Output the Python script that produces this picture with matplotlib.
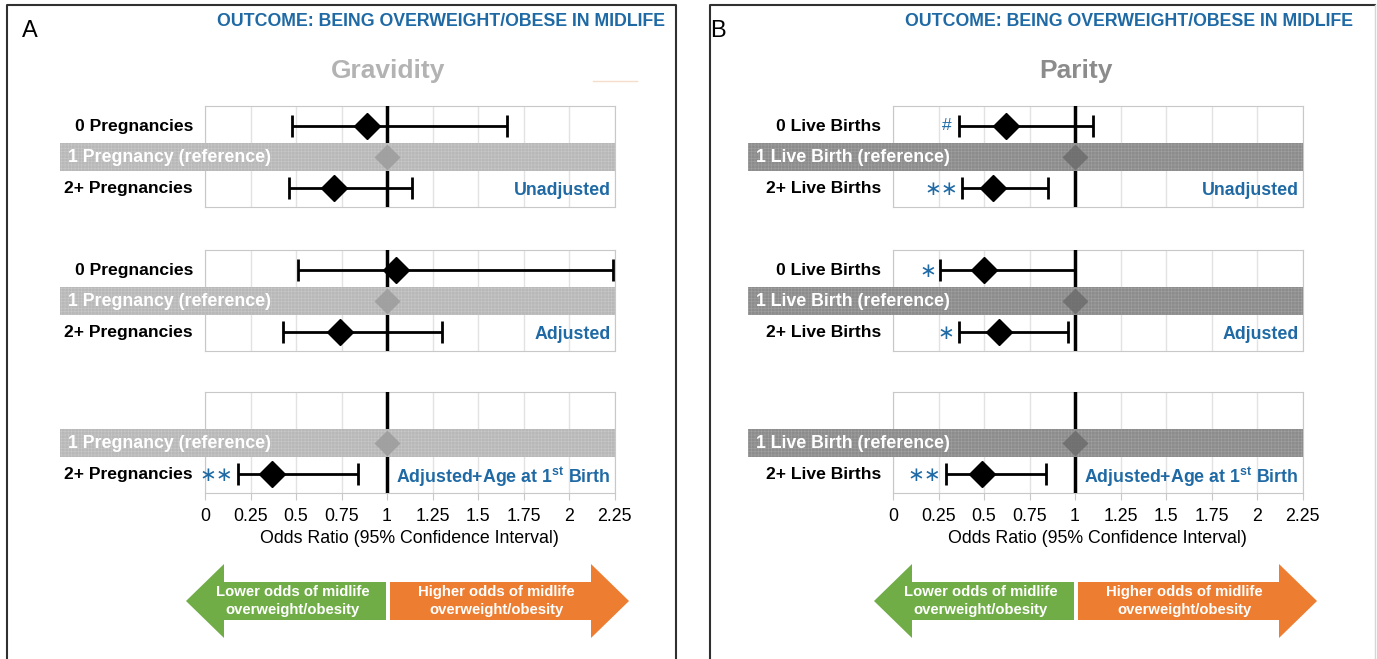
#!/usr/bin/env python3
# forest_midlife_bmi.py
# Odds ratios for midlife overweight/obesity by gravidity and parity
import numpy as np
import matplotlib.pyplot as plt
from matplotlib.patches import Rectangle, Polygon

plt.rcParams['font.family'] = ['Liberation Sans', 'DejaVu Sans']
plt.rcParams['mathtext.fontset'] = 'custom'
plt.rcParams['mathtext.bf'] = 'Liberation Sans:bold'
plt.rcParams['mathtext.rm'] = 'Liberation Sans'
plt.rcParams['hatch.linewidth'] = 0.4

W, H = 1377, 659
BLUE = '#1f6aa5'

models = ['Unadjusted', 'Adjusted', 'Adjusted+Age at 1$^{\\mathbf{st}}$ Birth']
xticks = [0, 0.25, 0.5, 0.75, 1, 1.25, 1.5, 1.75, 2, 2.25]
xticklabels = ['0', '0.25', '0.5', '0.75', '1', '1.25', '1.5', '1.75', '2', '2.25']

# gravidity (reference: 1 pregnancy)
grav_labels = ['0 Pregnancies', '1 Pregnancy (reference)', '2+ Pregnancies']
grav_zero_or = [0.89, 1.05, np.nan]
grav_zero_lo = [0.48, 0.51, np.nan]
grav_zero_hi = [1.66, 2.24, np.nan]
grav_zero_sig = ['', '', '']
grav_multi_or = [0.71, 0.74, 0.37]
grav_multi_lo = [0.46, 0.43, 0.18]
grav_multi_hi = [1.14, 1.30, 0.84]
grav_multi_sig = ['', '', '∗∗']

# parity (reference: 1 live birth)
par_labels = ['0 Live Births', '1 Live Birth (reference)', '2+ Live Births']
par_zero_or = [0.62, 0.50, np.nan]
par_zero_lo = [0.36, 0.26, np.nan]
par_zero_hi = [1.10, 1.00, np.nan]
par_zero_sig = ['#', '∗', '']
par_multi_or = [0.55, 0.58, 0.49]
par_multi_lo = [0.38, 0.36, 0.29]
par_multi_hi = [0.85, 0.96, 0.84]
par_multi_sig = ['∗∗', '∗', '∗∗']

fig = plt.figure(figsize=(W / 100, H / 100), dpi=100)

# full-figure overlay in pixel units for frames, headers and arrows
bg = fig.add_axes([0, 0, 1, 1])
bg.set_xlim(0, W)
bg.set_ylim(H, 0)
bg.axis('off')


def px_axes(x0, y0, x1, y1):
    return fig.add_axes([x0 / W, 1 - y1 / H, (x1 - x0) / W, (y1 - y0) / H])


def draw_panel(x0, letter, title, title_color, labels, band_color, hatch_color,
               ref_color, zero_or, zero_lo, zero_hi, zero_sig,
               multi_or, multi_lo, multi_hi, multi_sig):
    dx = x0 - 205
    ax_w = 409.5
    ref_rows = [157, 301, 443]
    top, bot = 1.63, -1.6
    for i, ref_px in enumerate(ref_rows):
        y_top = ref_px - top * 31
        y_bot = ref_px - bot * 31
        ax = px_axes(x0, y_top, x0 + ax_w, y_bot)
        ax.set_xlim(0, 2.25)
        ax.set_ylim(bot, top)
        ax.set_xticks(xticks)
        ax.set_yticks([])
        ax.grid(axis='x', color='#e2e2e2', lw=1, zorder=0)
        for s in ax.spines.values():
            s.set_color('#c8c8c8')
        if i < 2:
            ax.tick_params(axis='x', length=0, labelbottom=False)
        else:
            ax.set_xticklabels(xticklabels, fontsize=12.8)
            ax.tick_params(axis='x', length=5, color='#c8c8c8', pad=6)
            ax.set_xlabel('Odds Ratio (95% Confidence Interval)', fontsize=12.8,
                          labelpad=4)
        ax.axvline(1, color='black', lw=2.5, zorder=3)

        tr = ax.get_yaxis_transform()
        band_x0 = (60 - 205) / ax_w
        ax.add_patch(Rectangle((band_x0, -0.44), 1 - band_x0, 0.88, transform=tr,
                               facecolor=band_color, edgecolor=hatch_color,
                               lw=0, hatch='+++++', clip_on=False, zorder=4))
        ax.text(band_x0 + 8 / ax_w, -0.02, labels[1], transform=tr, ha='left',
                va='center', color='white', fontsize=12.8, fontweight='bold',
                zorder=5)
        ax.plot([1], [0], marker='D', ms=13, color=ref_color, alpha=0.8,
                mec='none', zorder=5, clip_on=False)

        rows = [(1, zero_or[i], zero_lo[i], zero_hi[i], zero_sig[i], labels[0]),
                (-1, multi_or[i], multi_lo[i], multi_hi[i], multi_sig[i], labels[2])]
        for y, o, lo, hi, sig, lab in rows:
            if np.isnan(o):
                continue
            ax.text(-12 / ax_w, y - 0.02, lab, transform=tr, ha='right',
                    va='center', fontsize=12.6, fontweight='bold')
            ax.errorbar([o], [y], xerr=[[o - lo], [hi - o]], fmt='D', ms=13,
                        color='black', ecolor='black', elinewidth=2,
                        capsize=8, capthick=2, zorder=6)
            if sig:
                if sig == '#':
                    ax.annotate(sig, (lo, y), xytext=(-5, 0),
                                textcoords='offset points', ha='right',
                                va='center', color=BLUE, fontsize=12.5)
                else:
                    ax.annotate(sig, (lo, y), xytext=(-3, -1),
                                textcoords='offset points', ha='right',
                                va='center', color=BLUE, fontsize=14.5,
                                family=['DejaVu Sans'])
        ax.text(0.99, -1.08, models[i], transform=tr, ha='right', va='center',
                color=BLUE, fontsize=12.8, fontweight='bold', zorder=5)

    # header texts
    bg.text(22 + dx, 31, letter, fontsize=17, ha='left', va='center')
    bg.text(665 + dx, 21, 'OUTCOME: BEING OVERWEIGHT/OBESE IN MIDLIFE',
            ha='right', va='center', color=BLUE, fontweight='bold',
            fontsize=12.8)
    bg.text(388 + dx, 71, title, ha='center', va='center', color=title_color,
            fontsize=19, fontweight='bold')

    # direction arrows under the axis
    green = [(186, 601), (224, 564), (224, 582), (386, 582), (386, 620),
             (224, 620), (224, 638)]
    orange = [(390, 582), (591, 582), (591, 564), (629, 601), (591, 638),
              (591, 620), (390, 620)]
    bg.add_patch(Polygon([(x + dx, y) for x, y in green], closed=True,
                         facecolor='#70ad47', edgecolor='none'))
    bg.add_patch(Polygon([(x + dx, y) for x, y in orange], closed=True,
                         facecolor='#ed7d31', edgecolor='none'))
    bg.text(293 + dx, 601, 'Lower odds of midlife\noverweight/obesity',
            ha='center', va='center', color='white', fontweight='bold',
            fontsize=10.7, linespacing=1.35)
    bg.text(496 + dx, 601, 'Higher odds of midlife\noverweight/obesity',
            ha='center', va='center', color='white', fontweight='bold',
            fontsize=10.7, linespacing=1.35)


draw_panel(205, 'A', 'Gravidity', '#b3b3b3', grav_labels, '#b8b8b8', '#c8c8c8',
           '#9a9a9a', grav_zero_or, grav_zero_lo, grav_zero_hi, grav_zero_sig,
           grav_multi_or, grav_multi_lo, grav_multi_hi, grav_multi_sig)
draw_panel(893, 'B', 'Parity', '#8c8c8c', par_labels, '#8c8c8c', '#a0a0a0',
           '#6a6a6a', par_zero_or, par_zero_lo, par_zero_hi, par_zero_sig,
           par_multi_or, par_multi_lo, par_multi_hi, par_multi_sig)

# panel frames
bg.plot([7, 7, 676, 676], [H + 5, 5, 5, H + 5], color='#303030', lw=1.5,
        clip_on=False)
bg.plot([710, 710, 1375], [H + 5, 5, 5], color='#303030', lw=1.5, clip_on=False)
bg.plot([1375, 1375], [5, H + 5], color='#d6d6d6', lw=1, clip_on=False)
bg.plot([593, 637], [81, 81], color='#f6dccb', lw=1)

fig.savefig('out.png', dpi=100)
